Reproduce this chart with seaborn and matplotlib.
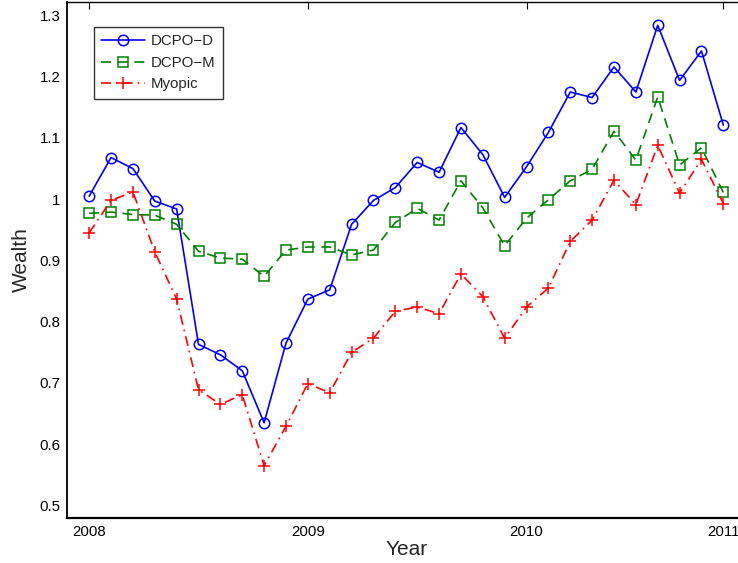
import numpy as np
import pandas as pd
import matplotlib
matplotlib.use("Agg")
import matplotlib.pyplot as plt
import seaborn as sns
from matplotlib.ticker import FuncFormatter

sns.set_style("white")
plt.rcParams['font.family'] = ['Liberation Sans', 'DejaVu Sans']

period = list(range(30))
dcpo_d = [1.005, 1.068, 1.050, 0.997, 0.984, 0.763, 0.746, 0.720, 0.635, 0.765,
          0.837, 0.852, 0.959, 0.998, 1.019, 1.060, 1.044, 1.117, 1.073, 1.003,
          1.053, 1.109, 1.175, 1.166, 1.216, 1.175, 1.284, 1.194, 1.242, 1.121]
dcpo_m = [0.977, 0.979, 0.975, 0.974, 0.959, 0.915, 0.904, 0.902, 0.874, 0.917,
          0.922, 0.922, 0.909, 0.917, 0.962, 0.985, 0.966, 1.030, 0.986, 0.924,
          0.969, 0.999, 1.030, 1.049, 1.111, 1.064, 1.167, 1.056, 1.084, 1.011]
myopic = [0.945, 0.998, 1.012, 0.914, 0.837, 0.689, 0.665, 0.681, 0.565, 0.629,
          0.699, 0.684, 0.750, 0.773, 0.817, 0.824, 0.813, 0.878, 0.841, 0.773,
          0.824, 0.855, 0.931, 0.966, 1.031, 0.991, 1.088, 1.010, 1.065, 0.993]
xtick_pos = [0, 10, 20, 29]
xtick_labels = ["2008", "2009", "2010", "2011"]
yticks = [0.5, 0.6, 0.7, 0.8, 0.9, 1.0, 1.1, 1.2, 1.3]

fig = plt.figure(figsize=(7.38, 5.63), dpi=100)
ax = fig.add_axes([67.3 / 738, (563 - 517.7) / 563, (745.2 - 67.3) / 738, (517.7 - 2) / 563])

series = [
    ("DCPO\u2212D", dcpo_d, (0, 0, 1), "-", "o", 7.5),
    ("DCPO\u2212M", dcpo_m, (0, 0.5, 0), (0, (6, 4)), "s", 7.0),
    ("Myopic", myopic, (1, 0, 0), (0, (6, 3, 1, 3)), "+", 8.0),
]
for name, vals, col, ls, mk, ms in series:
    df = pd.DataFrame({"x": period, "y": vals})
    sns.lineplot(data=df, x="x", y="y", ax=ax, color=col, linestyle=ls,
                 marker=mk, markersize=ms, markerfacecolor="none",
                 markeredgecolor=col, markeredgewidth=1.1, linewidth=1.2,
                 label=name)

ax.set_xlim(-1, 30)
ax.set_ylim(0.48, 1.322)
ax.set_xticks(xtick_pos)
ax.set_xticklabels(xtick_labels)
ax.set_yticks(yticks)
ax.yaxis.set_major_formatter(FuncFormatter(lambda v, p: f"{v:g}"))
ax.tick_params(direction="in", length=5, width=0.8, top=True, right=True,
               labelsize=10.8, colors="black", pad=5)
for s in ax.spines.values():
    s.set_color("black")
    s.set_linewidth(1.0)
ax.spines["bottom"].set_linewidth(1.6)
ax.spines["left"].set_linewidth(1.3)

ax.set_xlabel("Year", fontsize=15, labelpad=1)
ax.set_ylabel("Wealth", fontsize=15, labelpad=6)

leg = ax.legend(loc="upper left", bbox_to_anchor=(0.039, 0.952), borderaxespad=0,
                fontsize=10.8, handlelength=2.9, handletextpad=0.4, labelspacing=0.5,
                frameon=True, fancybox=False, borderpad=0.5)
leg.get_frame().set_edgecolor("black")
leg.get_frame().set_linewidth(1.0)

fig.savefig("out.png", dpi=100)
